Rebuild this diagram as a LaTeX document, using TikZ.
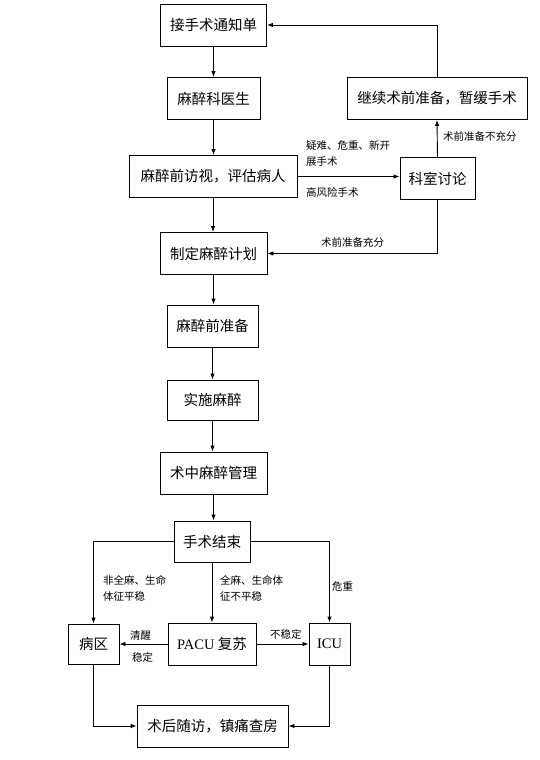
\documentclass[tikz,border=0pt]{standalone}
\usepackage{fontspec}
\setmainfont{Liberation Serif}
\newfontfamily\cjk{Noto Sans CJK SC}
\usetikzlibrary{arrows.meta}
\begin{document}
\begin{tikzpicture}[x=1pt,y=-1pt,
  box/.style={draw,line width=0.9pt,minimum width=#1,minimum height=42pt,inner sep=0pt,font=\cjk\fontsize{14.5}{16}\selectfont},
  lab/.style={anchor=west,inner sep=0pt,font=\cjk\fontsize{10.5}{12}\selectfont},
  arr/.style={line width=0.9pt,-{Latex[length=6pt,width=4.5pt]}}]
\useasboundingbox (0,0) rectangle (539,760);
\node[box=106] (n1) at (213.5,25) {接手术通知单};
\node[box=93] (n2) at (213.5,98.5) {麻醉科医生};
\node[box=180] (n3) at (437,98.5) {继续术前准备，暂缓手术};
\node[box=168] (n4) at (213,176.5) {麻醉前访视，评估病人};
\node[box=75] (n5) at (437.5,178.5) {科室讨论};
\node[box=107] (n6) at (213.5,253.5) {制定麻醉计划};
\node[box=91] (n7) at (212.5,326) {麻醉前准备};
\node[box=91,minimum height=40pt] (n8) at (212.5,400) {实施麻醉};
\node[box=107] (n9) at (213.5,473) {术中麻醉管理};
\node[box=76,minimum height=41pt] (n10) at (212,541.5) {手术结束};
\node[box=51,minimum height=40pt] (n11) at (93.5,644) {病区};
\node[box=88] (n12) at (212,644) {{\rmfamily PACU} 复苏};
\node[box=41] (n13) at (329.5,644) {\rmfamily ICU};
\node[box=151] (n14) at (212.5,726) {术后随访，镇痛查房};

\draw[arr] (n1.south) -- (n1.south |- n2.north);
\draw[arr] (n2.south) -- (n2.south |- n4.north);
\draw[arr] (n4.south) -- (n4.south |- n6.north);
\draw[arr] (n6.south) -- (n6.south |- n7.north);
\draw[arr] (n7.south) -- (n7.south |- n8.north);
\draw[arr] (n8.south) -- (n8.south |- n9.north);
\draw[arr] (n9.south) -- (n9.south |- n10.north);
\draw[arr] (n10.south) -- (n10.south |- n12.north);
\draw[arr] (n4.east) -- (n4.east -| n5.west);
\draw[arr] (n5.north) -- (n3.south);
\draw[arr] (n3.north) |- (n1.east);
\draw[arr] (n5.south) |- (n6.east);
\draw[arr] (n10.west) -| (n11.north);
\draw[arr] (n10.east) -| (n13.north);
\draw[arr] (n12.west) -- (n11.east);
\draw[arr] (n12.east) -- (n13.west);
\draw[arr] (n11.south) |- (n14.west);
\draw[arr] (n13.south) |- (n14.east);

\node[lab] (l1) at (306,146) {疑难、危重、新开};
\node[lab] (l2) at (306,162) {展手术};
\node[lab] (l3) at (306,192) {高风险手术};
\node[lab] (l4) at (321,242) {术前准备充分};
\node[lab] (l5) at (443,136) {术前准备不充分};
\node[lab] (l6) at (103,580) {非全麻、生命};
\node[lab] (l7) at (103,596) {体征平稳};
\node[lab] (l8) at (220,580) {全麻、生命体};
\node[lab] (l9) at (220,596) {征不平稳};
\node[lab] (l10) at (332,587) {危重};
\node[lab] (l11) at (130,635) {清醒};
\node[lab] (l12) at (132,657) {稳定};
\node[lab] (l13) at (270,634) {不稳定};
\end{tikzpicture}
\end{document}
